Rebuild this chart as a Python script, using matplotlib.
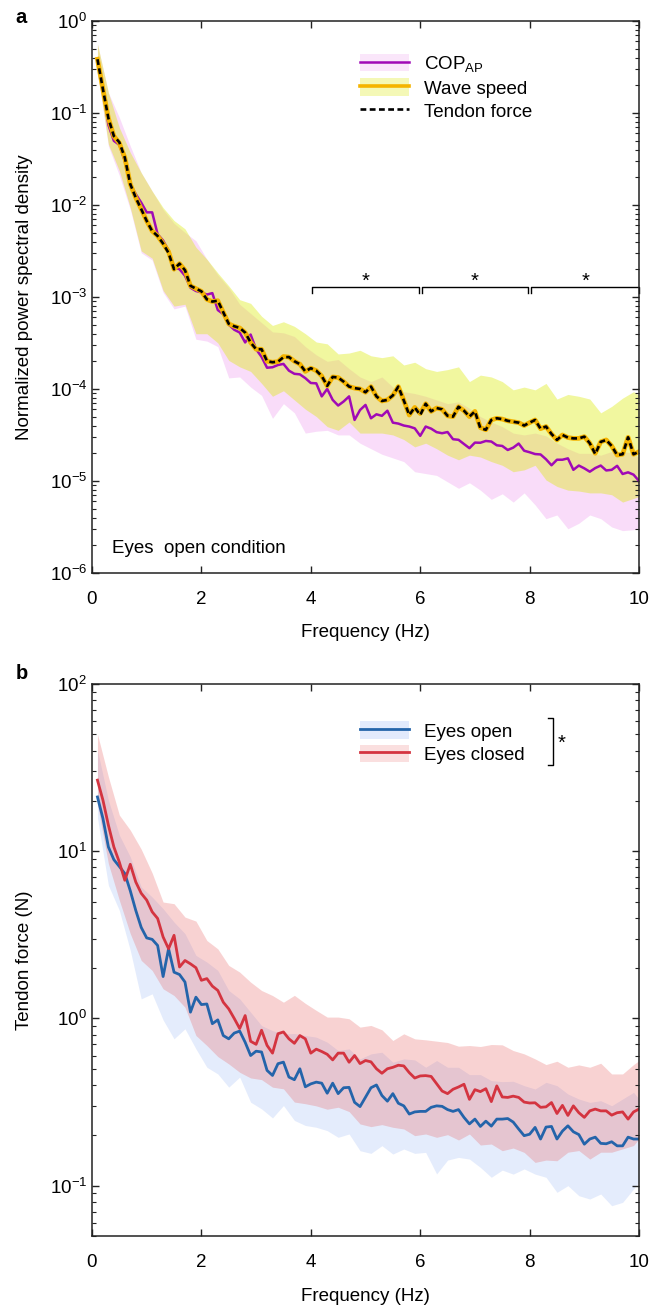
import numpy as np
import matplotlib
matplotlib.use("Agg")
import matplotlib.pyplot as plt
from matplotlib.patches import Patch
from matplotlib.lines import Line2D
from matplotlib.ticker import LogLocator, NullLocator, NullFormatter, MultipleLocator

plt.rcParams['font.family'] = ['Liberation Sans', 'DejaVu Sans']
plt.rcParams['mathtext.fontset'] = 'custom'
plt.rcParams['mathtext.rm'] = 'Liberation Sans'
plt.rcParams['mathtext.it'] = 'Liberation Sans:italic'
plt.rcParams['mathtext.bf'] = 'Liberation Sans:bold'
FS = 13.5

# =============================================================================
# Data
# mean spectra at 0.1 Hz resolution, band edges (log10) at 0.2 Hz
# =============================================================================
freq = np.round(np.linspace(0.1, 10.0, 100), 1)
band_freq = np.append(np.round(np.arange(0.1, 10.0, 0.2), 1), 10.0)

# ---- panel a: normalized PSD, eyes open ------------------------------------
cop_ap = [
    0.383, 0.181, 0.074, 0.0497, 0.045, 0.030, 0.0168, 0.0131, 0.0106, 0.0083,
    0.0083, 0.0048, 0.0041, 0.0032, 0.0021, 0.0020, 0.0017, 0.00126, 0.00116, 0.00112,
    0.00106, 0.00110, 0.00072, 0.00065, 0.00050, 0.00044, 0.00041, 0.00032, 0.00039, 0.00027,
    2.23e-4, 1.70e-4, 1.72e-4, 1.82e-4, 1.87e-4, 1.58e-4, 1.46e-4, 1.44e-4, 1.31e-4, 1.16e-4,
    1.15e-4, 8.3e-5, 1.0e-4, 7.6e-5, 6.6e-5, 7.3e-5, 8.3e-5, 4.6e-5, 5.9e-5, 6.7e-5,
    4.8e-5, 5.3e-5, 5.1e-5, 5.8e-5, 4.3e-5, 4.2e-5, 4.0e-5, 3.9e-5, 3.73e-5, 3.09e-5,
    3.9e-5, 3.7e-5, 3.39e-5, 3.3e-5, 3.4e-5, 2.84e-5, 2.8e-5, 2.52e-5, 2.27e-5, 2.61e-5,
    2.6e-5, 2.72e-5, 2.68e-5, 2.44e-5, 2.4e-5, 2.17e-5, 2.3e-5, 2.55e-5, 2.13e-5, 2.05e-5,
    1.96e-5, 1.94e-5, 1.72e-5, 1.48e-5, 1.7e-5, 1.7e-5, 1.76e-5, 1.32e-5, 1.47e-5, 1.37e-5,
    1.26e-5, 1.38e-5, 1.47e-5, 1.3e-5, 1.32e-5, 1.46e-5, 1.19e-5, 1.24e-5, 1.17e-5, 1.0e-5,
]
wave_speed = [
    0.383, 0.181, 0.0875, 0.056, 0.047, 0.0327, 0.0168, 0.012, 0.0090, 0.0067,
    0.0052, 0.0046, 0.0038, 0.0031, 0.0020, 0.0023, 0.00195, 0.00132, 0.00123, 0.00115,
    0.00094, 0.00089, 0.00091, 0.00068, 0.00051, 0.00048, 0.00046, 0.00041, 0.00032, 0.00027,
    2.7e-4, 2.0e-4, 1.95e-4, 1.98e-4, 2.25e-4, 2.22e-4, 2.0e-4, 1.86e-4, 1.55e-4, 1.68e-4,
    1.58e-4, 1.38e-4, 1.08e-4, 1.35e-4, 1.33e-4, 1.2e-4, 1.06e-4, 1.02e-4, 1.0e-4, 9.2e-5,
    1.06e-4, 8.3e-5, 7.4e-5, 7.6e-5, 8.5e-5, 1.06e-4, 7.5e-5, 5.2e-5, 6.3e-5, 5.4e-5,
    6.9e-5, 5.7e-5, 6.2e-5, 6.0e-5, 5.1e-5, 5.0e-5, 6.4e-5, 5.8e-5, 5.0e-5, 5.7e-5,
    3.8e-5, 3.6e-5, 4.6e-5, 4.8e-5, 4.7e-5, 4.5e-5, 4.4e-5, 4.3e-5, 4.0e-5, 4.3e-5,
    4.6e-5, 3.7e-5, 3.9e-5, 3.24e-5, 2.79e-5, 3.16e-5, 2.96e-5, 2.9e-5, 2.9e-5, 3.03e-5,
    2.57e-5, 2.0e-5, 2.66e-5, 2.79e-5, 2.4e-5, 1.91e-5, 1.95e-5, 2.98e-5, 1.95e-5, 2.08e-5,
]
tendon_force = [
    0.383, 0.181, 0.0875, 0.056, 0.048, 0.0327, 0.0168, 0.012, 0.0090, 0.0067,
    0.0052, 0.0046, 0.0038, 0.0030, 0.0020, 0.0023, 0.00195, 0.00132, 0.00123, 0.00115,
    0.00094, 0.00089, 0.00091, 0.00068, 0.00051, 0.00048, 0.00046, 0.00041, 0.00032, 0.00027,
    2.7e-4, 2.0e-4, 1.95e-4, 1.98e-4, 2.21e-4, 2.22e-4, 2.0e-4, 1.86e-4, 1.55e-4, 1.68e-4,
    1.58e-4, 1.38e-4, 1.08e-4, 1.35e-4, 1.33e-4, 1.2e-4, 1.06e-4, 1.02e-4, 1.0e-4, 9.2e-5,
    1.06e-4, 8.3e-5, 7.4e-5, 7.6e-5, 8.5e-5, 1.06e-4, 7.5e-5, 5.2e-5, 6.3e-5, 5.2e-5,
    6.9e-5, 5.7e-5, 6.2e-5, 6.0e-5, 5.1e-5, 5.0e-5, 6.4e-5, 5.8e-5, 5.0e-5, 5.7e-5,
    3.74e-5, 3.6e-5, 4.6e-5, 4.8e-5, 4.7e-5, 4.5e-5, 4.4e-5, 4.3e-5, 4.0e-5, 4.3e-5,
    4.6e-5, 3.7e-5, 3.9e-5, 3.24e-5, 2.79e-5, 3.16e-5, 2.96e-5, 2.9e-5, 2.9e-5, 3.03e-5,
    2.57e-5, 1.96e-5, 2.66e-5, 2.79e-5, 2.4e-5, 1.91e-5, 1.95e-5, 2.98e-5, 1.95e-5, 2.08e-5,
]

# band edges, log10(PSD)
cop_hi_log = [
    -0.25, -0.78, -1.05, -1.36, -1.65, -1.85, -2.05, -2.20, -2.30, -2.39,
    -2.59, -2.76, -2.90, -3.08, -3.18, -3.28, -3.38, -3.39, -3.43, -3.54,
    -3.63, -3.70, -3.68, -3.78, -3.87, -3.92, -3.87, -3.98, -4.03, -4.05,
    -4.08, -4.12, -4.16, -4.14, -4.21, -4.30, -4.36, -4.41, -4.48, -4.50,
    -4.48, -4.51, -4.59, -4.65, -4.70, -4.70, -4.72, -4.68, -4.68, -4.70,
    -4.75,
]
cop_lo_log = [
    -0.56, -1.36, -1.68, -2.05, -2.52, -2.60, -2.95, -3.13, -3.10, -3.46,
    -3.48, -3.54, -3.88, -3.87, -3.98, -4.07, -4.32, -4.16, -4.26, -4.48,
    -4.46, -4.45, -4.50, -4.50, -4.59, -4.65, -4.71, -4.75, -4.79, -4.90,
    -4.92, -4.94, -5.01, -5.08, -5.02, -5.10, -5.20, -5.14, -5.23, -5.13,
    -5.26, -5.41, -5.37, -5.52, -5.46, -5.37, -5.41, -5.50, -5.54, -5.53,
    -5.52,
]
wave_hi_log = [
    -0.25, -0.78, -1.16, -1.43, -1.65, -1.85, -2.03, -2.17, -2.26, -2.46,
    -2.59, -2.74, -2.88, -3.03, -3.07, -3.21, -3.31, -3.27, -3.32, -3.40,
    -3.49, -3.51, -3.62, -3.61, -3.58, -3.64, -3.66, -3.64, -3.74, -3.71,
    -3.78, -3.81, -3.79, -3.76, -3.92, -3.85, -3.87, -3.92, -4.01, -3.98,
    -4.01, -3.94, -4.11, -4.06, -4.08, -4.11, -4.26, -4.19, -4.10, -4.03,
    -4.07,
]
wave_lo_log = [
    -0.54, -1.34, -1.63, -2.03, -2.50, -2.58, -2.93, -3.10, -3.08, -3.40,
    -3.40, -3.50, -3.69, -3.76, -3.81, -3.94, -4.08, -4.02, -4.12, -4.22,
    -4.30, -4.41, -4.45, -4.36, -4.48, -4.48, -4.48, -4.50, -4.55, -4.63,
    -4.59, -4.65, -4.72, -4.77, -4.72, -4.74, -4.79, -4.83, -4.90, -4.88,
    -4.83, -4.99, -5.06, -5.10, -5.11, -5.13, -5.13, -5.15, -5.23, -5.19,
    -5.17,
]

# ---- panel b: tendon force spectra (N) --------------------------------------
eyes_open = [
    21.1, 15.7, 10.6, 8.9, 8.1, 7.35, 5.8, 4.43, 3.5, 3.03,
    2.97, 2.73, 1.78, 2.61, 1.89, 1.83, 1.65, 1.09, 1.34, 1.21,
    1.22, 0.93, 0.98, 0.79, 0.755, 0.817, 0.84, 0.72, 0.60, 0.637,
    0.63, 0.489, 0.456, 0.536, 0.548, 0.446, 0.43, 0.50, 0.39, 0.406,
    0.416, 0.41, 0.357, 0.41, 0.355, 0.385, 0.387, 0.315, 0.297, 0.338,
    0.385, 0.40, 0.346, 0.32, 0.355, 0.311, 0.30, 0.268, 0.276, 0.278,
    0.278, 0.294, 0.30, 0.298, 0.285, 0.278, 0.285, 0.256, 0.234, 0.25,
    0.226, 0.243, 0.227, 0.25, 0.25, 0.252, 0.24, 0.218, 0.199, 0.203,
    0.223, 0.19, 0.224, 0.226, 0.19, 0.212, 0.228, 0.21, 0.202, 0.177,
    0.19, 0.195, 0.179, 0.178, 0.183, 0.173, 0.173, 0.195, 0.19, 0.19,
]
eyes_closed = [
    26.6, 20.2, 14.3, 10.6, 8.6, 6.7, 8.35, 6.55, 5.6, 5.1,
    4.34, 3.96, 3.07, 2.61, 3.14, 2.03, 2.22, 2.12, 2.01, 1.69,
    1.73, 1.56, 1.47, 1.25, 1.14, 1.0, 0.87, 1.04, 0.73, 0.70,
    0.85, 0.69, 0.62, 0.81, 0.83, 0.755, 0.71, 0.79, 0.755, 0.62,
    0.655, 0.634, 0.61, 0.565, 0.62, 0.62, 0.547, 0.60, 0.537, 0.56,
    0.55, 0.50, 0.47, 0.50, 0.51, 0.525, 0.52, 0.474, 0.44, 0.453,
    0.455, 0.45, 0.407, 0.368, 0.355, 0.377, 0.389, 0.404, 0.328, 0.375,
    0.365, 0.38, 0.318, 0.395, 0.339, 0.337, 0.343, 0.337, 0.316, 0.312,
    0.313, 0.294, 0.296, 0.314, 0.27, 0.302, 0.263, 0.30, 0.273, 0.256,
    0.28, 0.287, 0.28, 0.28, 0.264, 0.273, 0.276, 0.25, 0.276, 0.287,
]

# band edges, log10(N)
open_hi_log = [
    1.605, 1.305, 1.096, 0.966, 0.786, 0.726, 0.656, 0.576, 0.507, 0.377,
    0.337, 0.287, 0.167, 0.117, 0.037, -0.043, -0.073, -0.093, -0.090, -0.102,
    -0.112, -0.142, -0.192, -0.182, -0.242, -0.212, -0.202, -0.262, -0.242, -0.248,
    -0.292, -0.252, -0.292, -0.292, -0.336, -0.336, -0.372, -0.378, -0.376, -0.402,
    -0.422, -0.382, -0.402, -0.452, -0.482, -0.502, -0.492, -0.522, -0.482, -0.442,
    -0.482,
]
open_lo_log = [
    1.20, 0.796, 0.646, 0.407, 0.117, 0.147, -0.009, -0.122, -0.062, -0.182,
    -0.292, -0.332, -0.411, -0.351, -0.501, -0.541, -0.595, -0.521, -0.610, -0.640,
    -0.651, -0.671, -0.711, -0.691, -0.791, -0.807, -0.761, -0.811, -0.781, -0.807,
    -0.801, -0.930, -0.847, -0.831, -0.841, -0.891, -0.950, -0.907, -0.931, -0.900,
    -0.931, -0.950, -1.040, -1.000, -1.060, -1.080, -1.050, -1.120, -1.100, -1.020,
    -0.980,
]
closed_hi_log = [
    1.700, 1.445, 1.216, 1.126, 1.012, 0.870, 0.696, 0.686, 0.606, 0.582,
    0.466, 0.416, 0.317, 0.277, 0.217, 0.167, 0.137, 0.097, 0.138, 0.090,
    0.048, 0.008, 0.008, -0.002, -0.052, -0.042, -0.068, -0.132, -0.092, -0.122,
    -0.128, -0.136, -0.144, -0.166, -0.162, -0.168, -0.156, -0.158, -0.192, -0.212,
    -0.242, -0.276, -0.256, -0.292, -0.278, -0.292, -0.268, -0.332, -0.332, -0.276,
    -0.252,
]
closed_lo_log = [
    1.28, 0.926, 0.707, 0.507, 0.347, 0.287, 0.177, 0.137, 0.067, -0.102,
    -0.162, -0.228, -0.272, -0.322, -0.356, -0.366, -0.411, -0.421, -0.500, -0.510,
    -0.523, -0.543, -0.531, -0.557, -0.631, -0.647, -0.635, -0.651, -0.661, -0.701,
    -0.691, -0.711, -0.695, -0.727, -0.691, -0.757, -0.751, -0.791, -0.775, -0.801,
    -0.861, -0.847, -0.851, -0.800, -0.790, -0.841, -0.800, -0.800, -0.780, -0.760,
    -0.720,
]

# =============================================================================
# Colours
# =============================================================================
COP_C = '#A00AB6'
COP_BAND = '#EE9CEE'
WAVE_C = '#F5B400'
WAVE_BAND = '#DCEB10'
OPEN_C = '#2464AA'
OPEN_BAND = '#6E96F0'
CLOSED_C = '#D43440'
CLOSED_BAND = '#E86060'


def style_axes(ax, ylim):
    ax.set_yscale('log')
    ax.set_xlim(0, 10)
    ax.set_ylim(*ylim)
    ax.xaxis.set_major_locator(MultipleLocator(2))
    ax.xaxis.set_minor_locator(NullLocator())
    ax.yaxis.set_major_locator(LogLocator(base=10, numticks=20))
    ax.yaxis.set_minor_locator(LogLocator(base=10, subs=np.arange(2, 10), numticks=20))
    ax.yaxis.set_minor_formatter(NullFormatter())
    ax.tick_params(which='both', direction='in', top=True, right=True,
                   labelsize=FS, color='#222222')
    ax.tick_params(which='major', length=5, width=1.0)
    ax.tick_params(which='minor', length=2.6, width=0.8)
    ax.tick_params(axis='x', pad=13)
    ax.tick_params(axis='y', pad=3.5)
    for s in ax.spines.values():
        s.set_linewidth(1.1)
        s.set_color('#222222')


fig = plt.figure(figsize=(6.51, 13.06), dpi=100)
ax_a = fig.add_axes([0.1413, 0.5613, 0.8403, 0.4227])
ax_b = fig.add_axes([0.1413, 0.0536, 0.8403, 0.4227])

# ── panel a ──────────────────────────────────────────────────────────────────
ax_a.fill_between(band_freq, 10 ** np.array(cop_lo_log), 10 ** np.array(cop_hi_log),
                  color=COP_BAND, alpha=0.35, lw=0)
ax_a.fill_between(band_freq, 10 ** np.array(wave_lo_log), 10 ** np.array(wave_hi_log),
                  color=WAVE_BAND, alpha=0.4, lw=0)
ax_a.plot(freq, cop_ap, color=COP_C, lw=1.8)
ax_a.plot(freq, wave_speed, color=WAVE_C, lw=3.4)
ax_a.plot(freq, tendon_force, color='black', lw=1.9, ls=(0, (2.2, 1.3)))
style_axes(ax_a, (1e-6, 1))
ax_a.set_xlabel('Frequency (Hz)', fontsize=FS)
ax_a.set_ylabel('Normalized power spectral density', fontsize=FS)
ax_a.xaxis.set_label_coords(0.5, -0.093)
ax_a.yaxis.set_label_coords(-0.108, 0.5)

h_cop = (Patch(facecolor=COP_BAND, alpha=0.25, edgecolor='none'),
         Line2D([], [], color=COP_C, lw=1.8))
h_wave = (Patch(facecolor=WAVE_BAND, alpha=0.3, edgecolor='none'),
          Line2D([], [], color=WAVE_C, lw=2.6))
h_tend = Line2D([], [], color='black', lw=1.9, ls=(0, (2.2, 1.3)))
ax_a.legend([h_cop, h_wave, h_tend], ['COP$_{\\mathrm{AP}}$', 'Wave speed', 'Tendon force'],
            loc='upper left', bbox_to_anchor=(0.49, 0.94), frameon=False,
            borderpad=0, borderaxespad=0, handlelength=2.6, handleheight=1.05,
            handletextpad=0.8, labelspacing=0.23, fontsize=FS)

# significance brackets 4-6, 6-8, 8-10 Hz
sig_segments = [(4.03, 5.97), (6.03, 7.97), (8.03, 10.0)]
for x0, x1 in sig_segments:
    ax_a.plot([x0, x0, x1, x1], [1.1e-3, 1.28e-3, 1.28e-3, 1.1e-3],
              color='black', lw=1.0, clip_on=False)
    ax_a.text((x0 + x1) / 2, 1.28e-3, '*', ha='center', va='baseline', fontsize=FS + 1)

ax_a.text(0.37, 1.65e-6, 'Eyes  open condition', fontsize=FS, va='baseline')

# ── panel b ──────────────────────────────────────────────────────────────────
ax_b.fill_between(band_freq, 10 ** np.array(open_lo_log), 10 ** np.array(open_hi_log),
                  color=OPEN_BAND, alpha=0.18, lw=0)
ax_b.fill_between(band_freq, 10 ** np.array(closed_lo_log), 10 ** np.array(closed_hi_log),
                  color=CLOSED_BAND, alpha=0.28, lw=0)
ax_b.plot(freq, eyes_open, color=OPEN_C, lw=2.0)
ax_b.plot(freq, eyes_closed, color=CLOSED_C, lw=2.0)
style_axes(ax_b, (0.05, 100))
ax_b.set_xlabel('Frequency (Hz)', fontsize=FS)
ax_b.set_ylabel('Tendon force (N)', fontsize=FS)
ax_b.xaxis.set_label_coords(0.5, -0.094)
ax_b.yaxis.set_label_coords(-0.108, 0.5)

h_open = (Patch(facecolor=OPEN_BAND, alpha=0.2, edgecolor='none'),
          Line2D([], [], color=OPEN_C, lw=2.0))
h_closed = (Patch(facecolor=CLOSED_BAND, alpha=0.2, edgecolor='none'),
            Line2D([], [], color=CLOSED_C, lw=2.0))
ax_b.legend([h_open, h_closed], ['Eyes open', 'Eyes closed'],
            loc='upper left', bbox_to_anchor=(0.49, 0.932), frameon=False,
            borderpad=0, borderaxespad=0, handlelength=2.6, handleheight=1.05,
            handletextpad=0.8, labelspacing=0.23, fontsize=FS)
ax_b.plot([0.834, 0.843, 0.843, 0.834], [0.938, 0.938, 0.853, 0.853],
          transform=ax_b.transAxes, color='black', lw=1.0, clip_on=False)
ax_b.text(0.852, 0.893, '*', transform=ax_b.transAxes, fontsize=FS + 1, va='center')

# panel letters
fig.text(0.023, 1 - 23 / 1306, 'a', fontsize=FS + 1, weight='bold', va='baseline')
fig.text(0.024, 1 - 679 / 1306, 'b', fontsize=FS + 1, weight='bold', va='baseline')

fig.savefig('out.png', dpi=100)
